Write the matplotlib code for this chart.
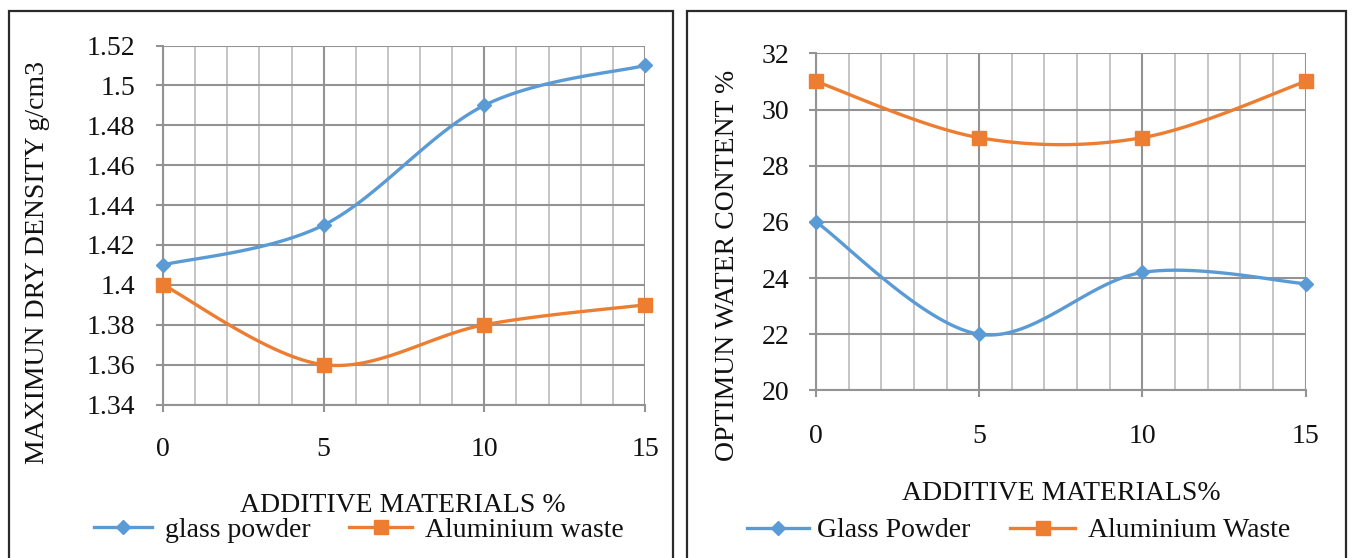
import numpy as np
import matplotlib
matplotlib.use("Agg")
import matplotlib.pyplot as plt
from matplotlib.lines import Line2D
from matplotlib.patches import Rectangle

plt.rcParams['font.family'] = ['Liberation Serif', 'DejaVu Serif']

# ---------------- data ----------------
additive = [0, 5, 10, 15]

mdd_glass = [1.41, 1.43, 1.49, 1.51]
mdd_alum = [1.40, 1.36, 1.38, 1.39]
mdd_ticks = [1.34, 1.36, 1.38, 1.40, 1.42, 1.44, 1.46, 1.48, 1.50, 1.52]
mdd_ticklabels = ["1.34", "1.36", "1.38", "1.4", "1.42", "1.44", "1.46", "1.48", "1.5", "1.52"]

omc_glass = [26.0, 22.0, 24.2, 23.8]
omc_alum = [31.0, 29.0, 29.0, 31.0]
omc_ticks = [20, 22, 24, 26, 28, 30, 32]

x_ticks = [0, 5, 10, 15]

BLUE = '#5B9BD5'
ORANGE = '#ED7D31'
GRID_MAJ = '#939393'
GRID_MIN = '#c0c0c0'
FS = 20
TXT = '#111111'

W, H = 1353, 558
fig = plt.figure(figsize=(W / 100, H / 100), dpi=100)


def px_axes(x0, y0, x1, y1):
    return fig.add_axes([x0 / W, 1 - y1 / H, (x1 - x0) / W, (y1 - y0) / H])


def excel_smooth(x, y, n=40):
    pts = np.column_stack([x, y]).astype(float)
    P = np.vstack([pts[0], pts, pts[-1]])
    out = []
    t = np.linspace(0, 1, n)[:, None]
    for i in range(1, len(P) - 2):
        p0, p1, p2, p3 = P[i - 1], P[i], P[i + 1], P[i + 2]
        c1 = p1 + (p2 - p0) / 6
        c2 = p2 - (p3 - p1) / 6
        seg = ((1 - t) ** 3) * p1 + 3 * ((1 - t) ** 2) * t * c1 + 3 * (1 - t) * t ** 2 * c2 + t ** 3 * p2
        out.append(seg)
    s = np.vstack(out)
    return s[:, 0], s[:, 1]


def style_axes(ax, yticks, ylabels, ylim, xpad, ypad):
    ax.set_xlim(0, 15)
    ax.set_ylim(*ylim)
    ax.set_xticks(x_ticks)
    ax.set_xticklabels([str(v) for v in x_ticks])
    ax.set_xticks(np.arange(0, 16, 1), minor=True)
    ax.set_yticks(yticks)
    ax.set_yticklabels(ylabels)
    ax.grid(True, which='major', color=GRID_MAJ, lw=1.5, zorder=0)
    ax.grid(True, which='minor', axis='x', color=GRID_MIN, lw=1.3, zorder=0)
    ax.set_axisbelow(True)
    for s in ['top', 'right']:
        ax.spines[s].set_visible(False)
    for s in ['left', 'bottom']:
        ax.spines[s].set_color(GRID_MAJ)
        ax.spines[s].set_linewidth(1.5)
    ax.tick_params(axis='x', which='major', length=5, width=1.5, color=GRID_MAJ,
                   labelsize=FS, pad=xpad, labelcolor=TXT)
    ax.tick_params(axis='x', which='minor', length=0)
    ax.tick_params(axis='y', which='major', length=5, width=1.5, color=GRID_MAJ,
                   labelsize=FS, pad=ypad, labelcolor=TXT)
    ax.set_facecolor('white')


def plot_series(ax, y, color, marker, ms):
    xs, ys = excel_smooth(additive, y)
    ax.plot(xs, ys, color=color, lw=2.4, solid_capstyle='round', zorder=3, clip_on=False)
    ax.plot(additive, y, ls='none', marker=marker, ms=ms, color=color, zorder=4, clip_on=False)


# ---------------- frames ----------------
fig.add_artist(Rectangle((9 / W, -0.05), (673 - 9) / W, 1.05 - 11 / H,
                         transform=fig.transFigure, fill=False, ec='#2a2a2a', lw=1.6))
fig.add_artist(Rectangle((687 / W, -0.05), (1346 - 687) / W, 1.05 - 11 / H,
                         transform=fig.transFigure, fill=False, ec='#2a2a2a', lw=1.6))

# ---------------- left chart ----------------
ax1 = px_axes(163, 45.5, 645, 404.6)
style_axes(ax1, mdd_ticks, mdd_ticklabels, (1.34, 1.52), xpad=18.5, ypad=15)
plot_series(ax1, mdd_glass, BLUE, 'D', 7.5)
plot_series(ax1, mdd_alum, ORANGE, 's', 9.5)

fig.text(43.6 / W, 1 - 263 / H, "MAXIMUN DRY DENSITY g/cm3", rotation=90,
         rotation_mode='anchor', ha='center', va='baseline', fontsize=FS, color=TXT)
fig.text(403 / W, 1 - 512 / H, "ADDITIVE MATERIALS %", ha='center', va='baseline',
         fontsize=FS, color=TXT)

# ---------------- right chart ----------------
ax2 = px_axes(816, 53.4, 1305.5, 390.4)
style_axes(ax2, omc_ticks, [str(v) for v in omc_ticks], (20, 32), xpad=19.5, ypad=14)
plot_series(ax2, omc_glass, BLUE, 'D', 7.5)
plot_series(ax2, omc_alum, ORANGE, 's', 9.5)

fig.text(734 / W, 1 - 265 / H, "OPTIMUN WATER CONTENT %", rotation=90,
         rotation_mode='anchor', ha='center', va='baseline', fontsize=FS, color=TXT)
fig.text(1061 / W, 1 - 500 / H, "ADDITIVE MATERIALS%", ha='center', va='baseline',
         fontsize=FS, color=TXT)


# ---------------- legends ----------------
def legend_item(x0, x1, y, color, marker, ms, label, tx, ty):
    fig.add_artist(Line2D([x0 / W, x1 / W], [1 - y / H, 1 - y / H], transform=fig.transFigure,
                          color=color, lw=2.4))
    fig.add_artist(Line2D([(x0 + x1) / 2 / W], [1 - y / H], transform=fig.transFigure,
                          color=color, marker=marker, ms=ms, ls='none'))
    fig.text(tx / W, 1 - ty / H, label, ha='left', va='baseline', fontsize=FS, color=TXT)


legend_item(94, 152, 527, BLUE, 'D', 7, "glass powder", 165, 537)
legend_item(349, 412, 527, ORANGE, 's', 9.5, "Aluminium waste", 425, 537)
legend_item(747, 809, 528, BLUE, 'D', 7, "Glass Powder", 817, 537)
legend_item(1010, 1075, 528, ORANGE, 's', 9.5, "Aluminium Waste", 1088, 537)

fig.savefig("out.png", dpi=100, facecolor='white')
